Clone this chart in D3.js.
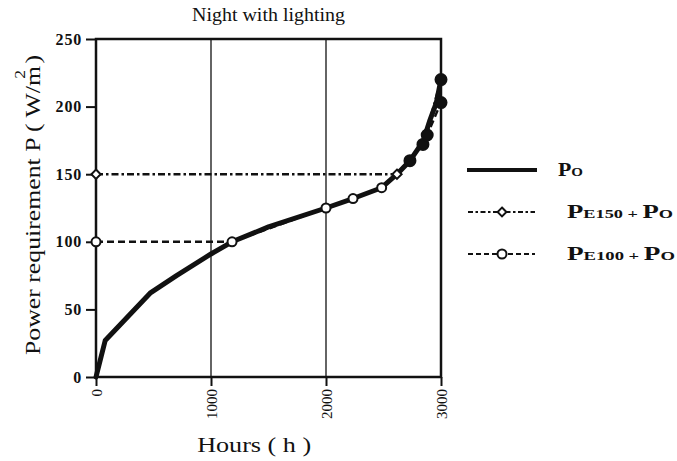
<!DOCTYPE html>
<html>
<head>
<meta charset="utf-8">
<script src="https://cdn.jsdelivr.net/npm/d3@7"></script>
<style>
  body { margin: 0; background: #fff; }
  svg { display: block; }
</style>
</head>
<body>
<svg id="chart" width="677" height="461"></svg>
<script>
// Power requirement over operating hours (night with lighting)
const poHours  = [0, 80, 470, 700, 1000, 1183, 1500, 2000, 2235, 2484, 2617, 2730, 2843, 2904, 2960, 3000];
const poValues = [0, 27, 62, 75, 91, 100, 111, 125, 132, 140, 150, 160, 174, 190, 203, 220];

// Po with a 150 W/m2 floor
const pe150Hours  = [0, 2590, 2617, 2843, 3000];
const pe150Values = [150, 150, 150, 172, 220];

// Po with a 100 W/m2 floor
const pe100Hours  = [0, 1183, 2000, 2235, 2484, 2730, 2880, 3000];
const pe100Values = [100, 100, 125, 132, 140, 160, 179, 203];

const xTicks = [0, 1000, 2000, 3000];
const yTicks = [0, 50, 100, 150, 200, 250];
const gridHours = [1000, 2000];

const titleText = "Night with lighting";
const xTitle = "Hours  ( h )";

// legend labels: [text, isCapital] pieces, small capitals for the rest
const legendLabels = [
  [["P", true], ["O", false]],
  [["P", true], ["E150", false], [" + ", false], ["P", true], ["O", false]],
  [["P", true], ["E100", false], [" +  ", false], ["P", true], ["O", false]]
];

const ink = "#111";
const svg = d3.select("#chart");

const x = d3.scaleLinear().domain([0, 3000]).range([96, 441]);
const y = d3.scaleLinear().domain([0, 250]).range([377, 39]);

const serif = "'Liberation Serif', 'Times New Roman', serif";

// title
svg.append("text")
  .attr("x", 192).attr("y", 21)
  .attr("font-family", serif).attr("font-size", 18)
  .attr("textLength", 153).attr("lengthAdjust", "spacingAndGlyphs")
  .attr("fill", ink)
  .text(titleText);

// vertical grid lines
svg.append("g").selectAll("line").data(gridHours).join("line")
  .attr("x1", d => x(d)).attr("x2", d => x(d))
  .attr("y1", y(250)).attr("y2", y(0))
  .attr("stroke", ink).attr("stroke-width", 1.3);

// y axis
const yAxis = svg.append("g")
  .attr("transform", `translate(${x(0)},0)`)
  .call(d3.axisLeft(y).tickValues(yTicks).tickSize(10).tickPadding(4).tickFormat(d3.format("d")));
yAxis.select(".domain").remove();
yAxis.selectAll(".tick line").attr("stroke", ink).attr("stroke-width", 2);
yAxis.selectAll(".tick text")
  .attr("font-family", serif).attr("font-size", 16).attr("font-weight", "bold")
  .attr("letter-spacing", 0.8).attr("fill", ink);

// x axis
const xAxis = svg.append("g")
  .attr("transform", `translate(0,${y(0)})`)
  .call(d3.axisBottom(x).tickValues(xTicks).tickSize(9).tickFormat(d3.format("d")));
xAxis.select(".domain").remove();
xAxis.selectAll(".tick line").attr("stroke", ink).attr("stroke-width", 2);
xAxis.selectAll(".tick text")
  .attr("font-family", serif).attr("font-size", 15).attr("fill", ink)
  .attr("text-anchor", "end")
  .attr("transform", "rotate(-90)")
  .attr("x", -12).attr("y", 0).attr("dy", "0.35em");

// axis titles
svg.append("text")
  .attr("transform", `translate(${x(1375)},452)`)
  .attr("text-anchor", "middle")
  .attr("font-family", serif).attr("font-size", 21)
  .attr("textLength", 114).attr("lengthAdjust", "spacingAndGlyphs")
  .attr("fill", ink)
  .text(xTitle);

const yTitle = svg.append("text")
  .attr("transform", "translate(40,355) rotate(-90)")
  .attr("font-family", serif).attr("font-size", 22)
  .attr("textLength", 300).attr("lengthAdjust", "spacingAndGlyphs")
  .attr("fill", ink);
yTitle.append("tspan").text("Power requirement P ( W/m");
yTitle.append("tspan").attr("font-size", 15).attr("dx", -11).attr("dy", -15).text("2");
yTitle.append("tspan").attr("dy", 15).text(" )");

// series lines
const toPoints = (hs, vs) => hs.map((h, i) => [h, vs[i]]);
const line = d3.line().x(d => x(d[0])).y(d => y(d[1]));

const pe150 = toPoints(pe150Hours, pe150Values);
const pe100 = toPoints(pe100Hours, pe100Values);
const po = toPoints(poHours, poValues);

svg.append("path").datum(pe150).attr("d", line)
  .attr("fill", "none").attr("stroke", ink).attr("stroke-width", 2.4)
  .attr("stroke-dasharray", "7,3,2.5,3");
svg.append("path").datum(pe100).attr("d", line)
  .attr("fill", "none").attr("stroke", ink).attr("stroke-width", 2.4)
  .attr("stroke-dasharray", "7,4");
svg.append("path").datum(po).attr("d", line)
  .attr("fill", "none").attr("stroke", ink).attr("stroke-width", 5)
  .attr("stroke-linejoin", "round").attr("stroke-linecap", "round");

// plot frame
svg.append("rect")
  .attr("x", x(0)).attr("y", y(250))
  .attr("width", x(3000) - x(0)).attr("height", y(0) - y(250))
  .attr("fill", "none").attr("stroke", ink).attr("stroke-width", 2.5);

// markers: open near the start, solid where the curve climbs steeply
const solidFrom = 2700;
const diamond = d3.symbol().type(d3.symbolDiamond2).size(55);
const dot = d3.symbol().type(d3.symbolCircle).size(95);
svg.append("g").selectAll("path").data(pe150).join("path")
  .filter((d, i) => i !== 1)
  .attr("d", d => d[0] >= solidFrom ? dot() : diamond())
  .attr("transform", d => `translate(${x(d[0])},${y(d[1])})`)
  .attr("fill", d => d[0] >= solidFrom ? ink : "#fff")
  .attr("stroke", ink).attr("stroke-width", 2);
svg.append("g").selectAll("circle").data(pe100).join("circle")
  .attr("cx", d => x(d[0])).attr("cy", d => y(d[1]))
  .attr("r", d => d[0] >= solidFrom ? 5.5 : 4.5)
  .attr("fill", d => d[0] >= solidFrom ? ink : "#fff")
  .attr("stroke", ink).attr("stroke-width", 2);

// legend
const legendRows = [170, 212, 254];
const lg = svg.append("g");
// Po sample
lg.append("line").attr("x1", 467).attr("x2", 537).attr("y1", legendRows[0]).attr("y2", legendRows[0])
  .attr("stroke", ink).attr("stroke-width", 4);
// PE150 sample
lg.append("line").attr("x1", 468).attr("x2", 535).attr("y1", legendRows[1]).attr("y2", legendRows[1])
  .attr("stroke", ink).attr("stroke-width", 2.2).attr("stroke-dasharray", "5,2.5,2.5,2.5");
lg.append("path").attr("d", d3.symbol().type(d3.symbolDiamond2).size(50)())
  .attr("transform", `translate(502,${legendRows[1]})`)
  .attr("fill", "#fff").attr("stroke", ink).attr("stroke-width", 2);
// PE100 sample
lg.append("line").attr("x1", 468).attr("x2", 535).attr("y1", legendRows[2]).attr("y2", legendRows[2])
  .attr("stroke", ink).attr("stroke-width", 2.2).attr("stroke-dasharray", "5,3");
lg.append("circle").attr("cx", 502).attr("cy", legendRows[2]).attr("r", 4.5)
  .attr("fill", "#fff").attr("stroke", ink).attr("stroke-width", 2);

const legendX = [558, 567, 567];
const legendLen = [25, 106, 108];
legendLabels.forEach((parts, i) => {
  const t = lg.append("text")
    .attr("x", legendX[i]).attr("y", legendRows[i] + 6)
    .attr("font-family", serif).attr("font-weight", "bold").attr("fill", ink)
    .attr("textLength", legendLen[i]).attr("lengthAdjust", "spacingAndGlyphs");
  parts.forEach(([s, cap]) => {
    t.append("tspan").attr("font-size", cap ? 19 : 13).text(s);
  });
});
</script>
</body>
</html>
